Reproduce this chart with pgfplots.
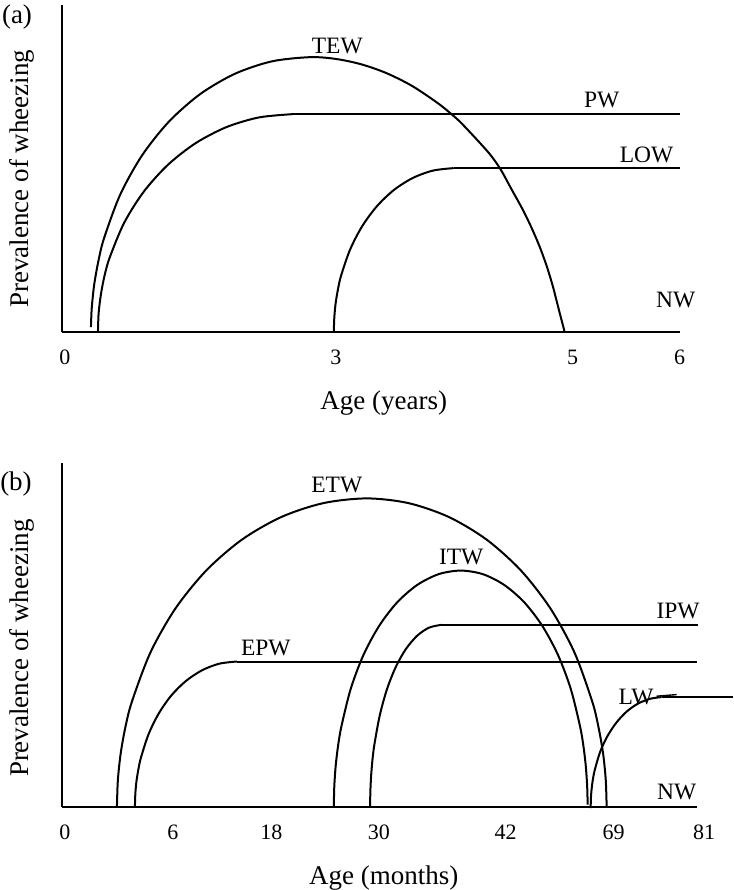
\documentclass[border=0pt]{standalone}
\usepackage{fontspec}
\setmainfont{Liberation Serif}
\usepackage{pgfplots}
\pgfplotsset{compat=1.18}
\pgfplotsset{
  panel/.style={
    scale only axis, width=367pt, xmin=0, xmax=734, ymin=0,
    axis line style={draw=none}, major tick length=0pt, ytick=\empty,
    clip=false,
    tick label style={font=\fontsize{11}{13}\selectfont, inner sep=0pt},
    xticklabel style={anchor=base, yshift=-16.5pt},
    every axis x label/.style={at={(axis description cs:0.5232,0)}, anchor=base, yshift=-38.75pt, inner sep=0pt, font=\fontsize{13.5}{16}\selectfont},
    every axis y label/.style={rotate=90, anchor=center, inner sep=0pt, font=\fontsize{13.5}{16}\selectfont},
  },
}
\tikzset{
  crv/.style={black, line width=1pt},
  axl/.style={black, line width=1.1pt},
  lbl/.style={font=\fontsize{11.75}{14}\selectfont, inner sep=0pt, anchor=center},
}
\begin{document}
\begin{tikzpicture}
% ---------------- panel (a) ----------------
\begin{axis}[panel, ymax=332, height=166pt,
  xtick={65,336,573,680}, xticklabels={0,3,5,6},
  xlabel={Age (years)}, ylabel={Prevalence of wheezing},
  ylabel style={at={(axis description cs:0.02997,0.4623)}}]
\addplot[axl, no markers] coordinates {(62,0) (62,327)};
\addplot[axl, no markers] coordinates {(62,0) (680,0)};
% TEW
\addplot[crv, no markers, smooth] coordinates {(91.0,4.8) (91.8,24.0) (94.3,47.7) (98.5,71.2) (104.2,94.1) (120.3,137.5) (142.2,176.8) (169.2,210.7) (200.5,238.2) (235.1,258.4) (272.0,270.8) (310,275) (335.5,273.3) (361,268) (386.5,259.1) (412,246.4) (437.5,229.4) (451.7,218) (463,207.6) (488.5,179.9) (500.7,163) (512,142.5) (523.3,122) (532,104) (540,85.3) (547,66) (553.3,45.3) (559,23) (565,0)};
% PW
\addplot[crv, no markers, smooth] coordinates {(98,0) (98.7,19.0) (101.0,37.8) (104.6,56.4) (109.8,74.6) (124.1,109.0) (143.6,140.1) (167.7,167.0) (195.5,188.8) (226.3,204.9) (259.1,214.7) (293,218)};
\addplot[crv, no markers] coordinates {(293,218) (680,218)};
% LOW
\addplot[crv, no markers, smooth] coordinates {(334,0) (334.5,14.3) (335.8,28.5) (338.1,42.4) (341.2,56.1) (350.1,82.0) (362.1,105.4) (376.9,125.6) (394,142) (413,154.1) (433.2,161.5) (454,164)};
\addplot[crv, no markers] coordinates {(454,164) (680,164)};
\node[lbl] at (axis cs:337.5,286) {TEW};
\node[lbl] at (axis cs:602,232) {PW};
\node[lbl] at (axis cs:647,177) {LOW};
\node[lbl] at (axis cs:676,32) {NW};
\node[lbl, font=\fontsize{13.5}{16}\selectfont] at (axis cs:17,315) {(a)};
\end{axis}
% ---------------- panel (b) ----------------
\begin{axis}[panel, ymax=367, height=183.5pt, at={(0pt,-237.5pt)},
  xtick={65,173,271.5,379,506,614,704.5}, xticklabels={0,6,18,30,42,69,81},
  xlabel={Age (months)}, ylabel={Prevalence of wheezing},
  ylabel style={at={(axis description cs:0.02997,0.4324)}}]
\addplot[axl, no markers] coordinates {(62,0) (62,344)};
\addplot[axl, no markers] coordinates {(62,0) (697,0)};
% ETW
\addplot[crv, no markers, smooth] coordinates {(117,0) (117.95,26.9) (120.8,53.6) (125.5,79.8) (132.1,105.5) (150.5,154.3) (175.5,198.3) (206.3,236.3) (242,267.2) (281.5,289.9) (323.6,303.8) (367,308.5) (408.7,303.8) (449.1,289.9) (487,267.2) (521.3,236.3) (550.8,198.3) (574.8,154.3) (592.5,105.5) (598.8,79.8) (603.4,53.6) (606.1,26.9) (607,0)};
% EPW
\addplot[crv, no markers, smooth] coordinates {(135,0) (135.4,12.7) (136.5,25.2) (138.5,37.6) (141.2,49.7) (148.7,72.7) (158.9,93.4) (171.4,111.3) (186,125.8) (202.1,136.5) (219.3,143.1) (237,145.3)};
\addplot[crv, no markers] coordinates {(237,145.3) (697,145.3)};
% ITW
\addplot[crv, no markers, smooth] coordinates {(334,0) (334.5,20.6) (335.9,41.0) (338.3,61.2) (341.7,80.8) (351.0,118.2) (363.7,151.9) (379.4,181.0) (397.5,204.6) (417.6,222.0) (438.9,232.7) (461,236.3) (483.1,232.7) (504.4,222.0) (524.5,204.6) (542.6,181.0) (558.3,151.9) (571.0,118.2) (580.3,80.8) (583.7,61.2) (586.1,41.0) (587.5,20.6) (588,2)};
% IPW
\addplot[crv, no markers, smooth] coordinates {(370.3,0) (370.6,15.9) (371.4,31.6) (372.7,47.1) (374.6,62.2) (379.9,91.0) (387.0,117.0) (395.8,139.4) (406.0,157.6) (417.3,171.0) (429.3,179.2) (441.7,182)};
\addplot[crv, no markers] coordinates {(441.7,182) (698,182)};
% LW
\addplot[crv, no markers, smooth] coordinates {(591,-1.5) (591.3,9.6) (592.1,19.0) (593.4,28.4) (595.3,37.5) (600.5,54.9) (607.7,70.5) (616.6,84.0) (626.8,95.0) (638.2,103.1) (650.4,108.0) (662,109.7)};
\addplot[crv, no markers] coordinates {(662,109.7) (733,109.7)};
\addplot[crv, no markers, line width=0.7pt] coordinates {(657,110.6) (677,112.2)};
\node[lbl] at (axis cs:337,322) {ETW};
\node[lbl] at (axis cs:266,159) {EPW};
\node[lbl] at (axis cs:461.5,250) {ITW};
\node[lbl] at (axis cs:678.5,195.5) {IPW};
\node[lbl] at (axis cs:636.5,109.5) {LW};
\node[lbl] at (axis cs:677,14.5) {NW};
\node[lbl, font=\fontsize{13.5}{16}\selectfont] at (axis cs:16,323) {(b)};
\end{axis}
\end{tikzpicture}
\end{document}
